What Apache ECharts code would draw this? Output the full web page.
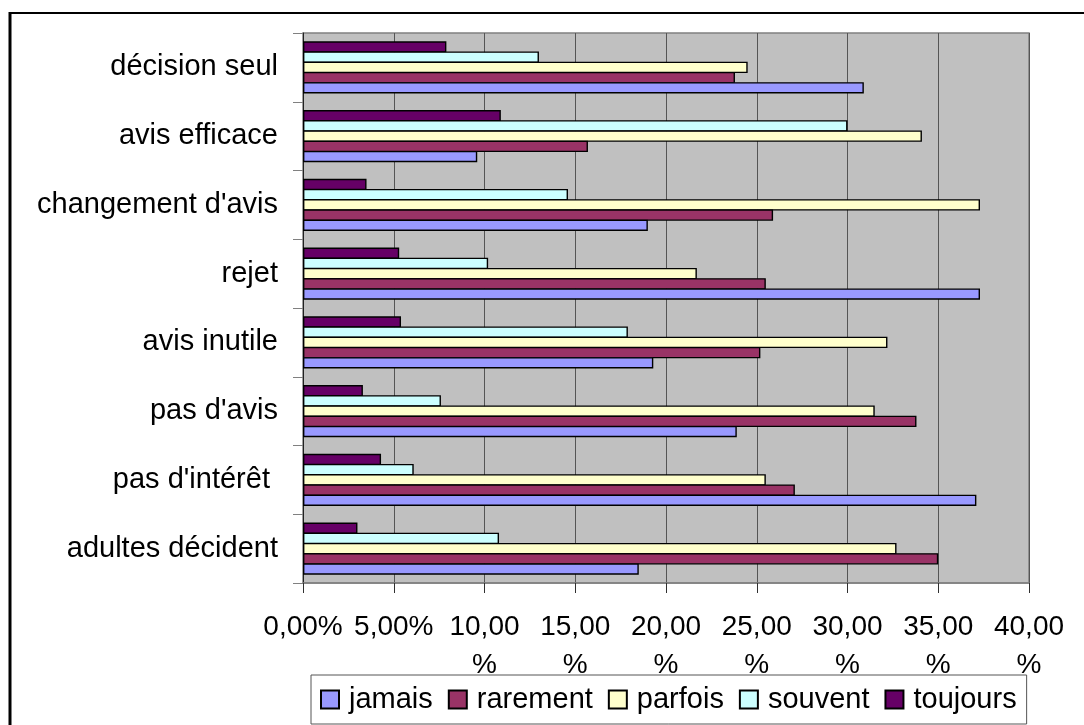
<!DOCTYPE html>
<html>
<head>
<meta charset="utf-8">
<script src="https://cdn.jsdelivr.net/npm/echarts@6/dist/echarts.min.js"></script>
<style>
html,body{margin:0;padding:0;background:#fff;}
#chart{width:1084px;height:725px;}
</style>
</head>
<body>
<div id="chart"></div>
<script>
// Categories listed bottom to top
const categories = ['adultes décident', "pas d'intérêt ", "pas d'avis", 'avis inutile', 'rejet', "changement d'avis", 'avis efficace', 'décision seul'];
const seriesNames = ['jamais', 'rarement', 'parfois', 'souvent', 'toujours'];
const jamais   = [18.5, 37.1, 23.9, 19.3, 37.3, 19.0, 9.6, 30.9];
const rarement = [35.0, 27.1, 33.8, 25.2, 25.5, 25.9, 15.7, 23.8];
const parfois  = [32.7, 25.5, 31.5, 32.2, 21.7, 37.3, 34.1, 24.5];
const souvent  = [10.8, 6.1, 7.6, 17.9, 10.2, 14.6, 30.0, 13.0];
const toujours = [3.0, 4.3, 3.3, 5.4, 5.3, 3.5, 10.9, 7.9];
const xTickLabels = ['0,00%', '5,00%', '10,00\n%', '15,00\n%', '20,00\n%', '25,00\n%', '30,00\n%', '35,00\n%', '40,00\n%'];

const seriesData = [jamais, rarement, parfois, souvent, toujours];
const colors = ['#9999FF', '#993366', '#FFFFCC', '#CCFFFF', '#660066'];
const font = "'Liberation Sans', Arial, sans-serif";

const chart = echarts.init(document.getElementById('chart'));
// ECharts stacks the first series at the top of a horizontal group; the reference
// has 'jamais' at the bottom, so the series list is given in reverse order.
const series = seriesNames.map((name, i) => ({
  name: name,
  type: 'bar',
  data: seriesData[i],
  barGap: '-10%',
  barCategoryGap: '24%',
  itemStyle: { color: colors[i], borderColor: '#000', borderWidth: 1.4 },
  emphasis: { disabled: true },
  animation: false
})).reverse();

chart.setOption({
  animation: false,
  textStyle: { fontFamily: font },
  graphic: [
    { type: 'line', shape: { x1: 10, y1: 12, x2: 10, y2: 800 }, style: { stroke: '#000', lineWidth: 3 }, silent: true, z: 100 },
    { type: 'line', shape: { x1: 9, y1: 13, x2: 1200, y2: 13 }, style: { stroke: '#000', lineWidth: 2 }, silent: true, z: 100 }
  ],
  grid: {
    left: 303, top: 33, width: 726, height: 550,
    show: true, backgroundColor: '#C0C0C0', borderColor: '#808080', borderWidth: 1.5
  },
  legend: {
    data: seriesNames,
    left: 311, top: 675,
    padding: [10, 10, 10, 9],
    itemGap: 15,
    icon: 'rect',
    itemWidth: 18, itemHeight: 18,
    borderColor: '#555', borderWidth: 1,
    backgroundColor: '#fff',
    textStyle: { fontFamily: font, fontSize: 29, color: '#000', padding: [0, 0, 0, 5] }
  },
  xAxis: {
    type: 'value',
    min: 0, max: 40, interval: 5,
    axisLine: { show: true, lineStyle: { color: '#808080', width: 1.5 } },
    axisTick: { show: true, length: 10, lineStyle: { color: '#303030' } },
    splitLine: { show: true, lineStyle: { color: '#555', width: 1 } },
    axisLabel: {
      margin: 25,
      fontFamily: font, fontSize: 28, color: '#000', lineHeight: 38,
      formatter: v => xTickLabels[Math.round(v / 5)]
    }
  },
  yAxis: {
    type: 'category',
    data: categories,
    axisLine: { show: true, lineStyle: { color: '#202020', width: 1 } },
    axisTick: { show: true, length: 10, lineStyle: { color: '#808080' } },
    axisLabel: { margin: 25, fontFamily: font, fontSize: 29, color: '#000' }
  },
  series: series
});
</script>
</body>
</html>
